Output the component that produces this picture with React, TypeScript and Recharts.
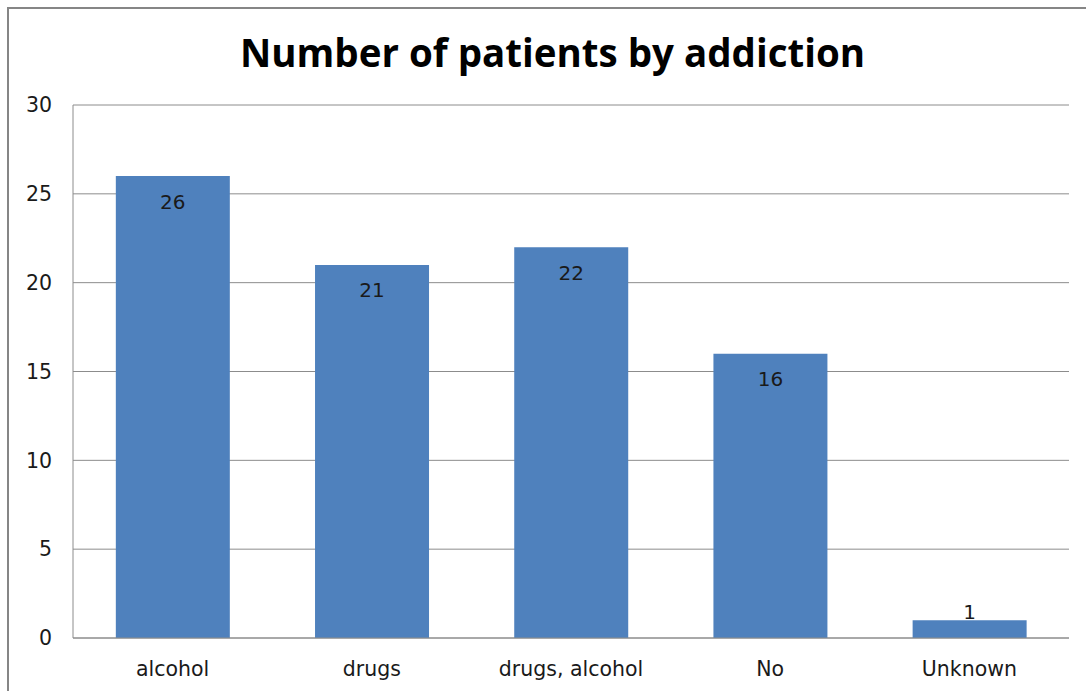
import React from 'react';
import { BarChart, Bar, XAxis, YAxis, CartesianGrid, LabelList } from 'recharts';

const categories = ['alcohol', 'drugs', 'drugs, alcohol', 'No', 'Unknown'];
const patients = [26, 21, 22, 16, 1];
const yTicks = [0, 5, 10, 15, 20, 25, 30];
const title = 'Number of patients by addiction';

const data = categories.map((c, i) => ({ name: c, value: patients[i] }));

const FONT = '"DejaVu Sans", sans-serif';
const TITLE_FONT = '"Open Sans", sans-serif';

const renderLabel = (props: any) => {
  const { x, y, width, height, value } = props;
  const cx = Number(x) + Number(width) / 2;
  const small = Number(height) < 30;
  const ty = small ? Number(y) - 7 : Number(y) + 27;
  return (
    <text x={cx} y={ty} textAnchor="middle" dominantBaseline="middle" fontFamily={FONT} fontSize={20} fill="#1a1a1a">
      {value}
    </text>
  );
};

export default function App() {
  return (
    <div style={{ position: 'absolute', left: 0, top: 0, width: 1086, height: 691, background: '#fff', overflow: 'hidden' }}>
      <div style={{ position: 'absolute', left: 7, top: 7, width: 1090, height: 700, borderLeft: '2px solid #868686', borderTop: '2px solid #868686' }} />
      <div style={{ position: 'absolute', left: 0, top: 33, width: 1105, textAlign: 'center', fontFamily: TITLE_FONT, fontWeight: 700, fontSize: 38.5, lineHeight: '38.5px', color: '#000', whiteSpace: 'nowrap' }}>
        {title}
      </div>
      <div style={{ position: 'absolute', left: 0, top: 0 }}>
        <BarChart width={1086} height={691} data={data} margin={{ top: 105, right: 17, bottom: 13, left: 13 }} barCategoryGap="21.5%">
          <CartesianGrid vertical={false} stroke="#8c8c8c" strokeWidth={1} />
          <XAxis dataKey="name" height={40} tickLine={false} tickSize={0} tickMargin={23} axisLine={{ stroke: '#8c8c8c' }} tick={{ fontFamily: FONT, fontSize: 20.5, fill: '#1a1a1a' }} />
          <YAxis width={60} domain={[0, 30]} ticks={yTicks} interval={0} tickLine={false} tickSize={0} tickMargin={21} axisLine={{ stroke: '#8c8c8c' }} tick={{ fontFamily: FONT, fontSize: 20.5, fill: '#1a1a1a' }} />
          <Bar dataKey="value" fill="#4F81BD" isAnimationActive={false}>
            <LabelList dataKey="value" content={renderLabel} />
          </Bar>
        </BarChart>
      </div>
    </div>
  );
}
